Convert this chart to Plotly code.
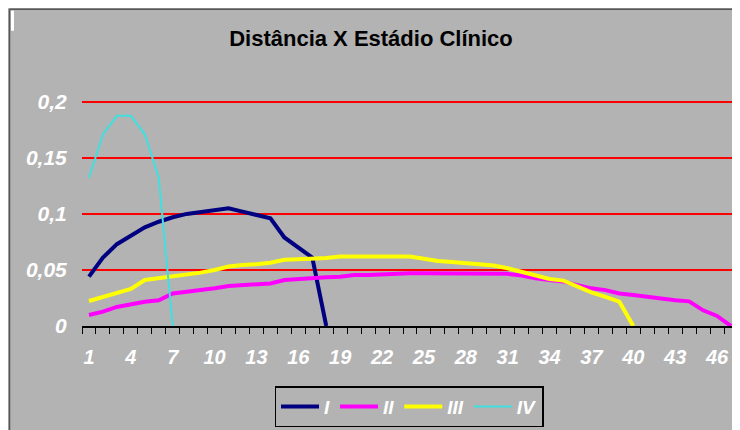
import plotly.graph_objects as go

categories = [str(c) for c in range(1, 48)]
y_tick_values = [0, 0.05, 0.1, 0.15, 0.2]
y_tick_labels = ["0", "0,05", "0,1", "0,15", "0,2"]

series_names = ["I", "II", "III", "IV"]
s_I = [0.044, 0.061, 0.073, 0.081, 0.088, 0.093, 0.097, 0.100, 0.1015, 0.1035,
       0.105, 0.102, 0.099, 0.096, 0.079, 0.070, 0.061, 0]
s_II = [0.0098, 0.0128, 0.017, 0.0194, 0.0217, 0.023, 0.029, 0.0306, 0.032, 0.0336,
        0.0357, 0.0363, 0.037, 0.038, 0.041, 0.042, 0.0425, 0.0435, 0.044, 0.0455,
        0.0455, 0.046, 0.047, 0.047, 0.047, 0.047, 0.047, 0.047, 0.047, 0.047,
        0.0465, 0.045, 0.0425, 0.041, 0.0396, 0.0365, 0.0336, 0.032, 0.029, 0.0277,
        0.026, 0.0245, 0.023, 0.022, 0.014, 0.009, 0]
s_III = [0.0223, 0.026, 0.030, 0.033, 0.041, 0.0426, 0.044, 0.046, 0.0476, 0.050,
         0.053, 0.0545, 0.055, 0.0565, 0.059, 0.0595, 0.060, 0.0607, 0.062, 0.062,
         0.062, 0.062, 0.062, 0.062, 0.060, 0.058, 0.057, 0.056, 0.055, 0.054,
         0.0515, 0.0485, 0.0455, 0.042, 0.0405, 0.035, 0.030, 0.026, 0.0217, 0]
s_IV = [0.132, 0.171, 0.1875, 0.1875, 0.171, 0.132, 0]

series = [s_I, s_II, s_III, s_IV]
colors = ["#000080", "#ff00ff", "#ffff00", "#40e0e0"]
widths = [4, 4, 4, 2]

fig = go.Figure()
for name, vals, c, w in zip(series_names, series, colors, widths):
    fig.add_trace(go.Scatter(
        x=categories[:len(vals)], y=vals, mode="lines", name=name,
        line=dict(color=c, width=w),
    ))

font_family = "Liberation Sans, Arial, sans-serif"
OFF = 8  # page body margin offset
W, H = 740, 430
Y_MAX = 0.2025
# screen coordinates: plot x 82..738, y(0.2)=102, y(0)=326
scale = (326 - 102) / 0.2
top_screen = 326 - Y_MAX * scale
L = 82 - OFF
R = W - (738 - OFF)
T = top_screen - OFF
B = H - (326 - OFF)
pw, ph = W - L - R, H - T - B


def px_x(sx):
    return (sx - OFF - L) / pw


def px_y(sy):
    return (H - B - (sy - OFF)) / ph


fig.update_layout(
    width=W, height=H,
    margin=dict(l=L, r=R, t=T, b=B, autoexpand=False),
    paper_bgcolor="#b3b3b3",
    plot_bgcolor="#b3b3b3",
    title=dict(
        text="Distância X Estádio Clínico",
        font=dict(family=font_family, size=22, color="black", weight="bold"),
        x=(371 - OFF) / W, xref="container", xanchor="center",
        y=1 - (38 - OFF) / H, yref="container", yanchor="middle",
    ),
    showlegend=True,
    legend=dict(
        orientation="h",
        x=px_x(409), xanchor="center",
        y=px_y(427), yanchor="bottom",
        bgcolor="#b3b3b3",
        bordercolor="black", borderwidth=1.5,
        font=dict(family=font_family, size=19, color="white",
                  weight="bold", style="italic"),
        itemwidth=38,
    ),
    xaxis=dict(
        type="category",
        categoryorder="array", categoryarray=categories,
        range=[-0.5, len(categories) - 0.5],
        tickmode="linear", tick0=0, dtick=1, ticklabelstep=3,
        tickson="boundaries",
        ticks="outside", ticklen=6, tickcolor="black", tickwidth=1.2,
        ticklabelstandoff=12,
        tickangle=0,
        tickfont=dict(family=font_family, size=20, color="white",
                      weight="bold", style="italic"),
        showline=True, linecolor="black", linewidth=1.5,
        showgrid=False, zeroline=False, automargin=False,
    ),
    yaxis=dict(
        range=[0, Y_MAX],
        tickmode="array", tickvals=y_tick_values, ticktext=y_tick_labels,
        ticks="outside", ticklen=10, tickcolor="rgba(0,0,0,0)",
        tickfont=dict(family=font_family, size=21, color="white",
                      weight="bold", style="italic"),
        showline=False, zeroline=False, automargin=False,
        showgrid=True, gridcolor="#ff0000", gridwidth=1.5,
    ),
    shapes=[
        dict(type="line", xref="paper", yref="paper",
             x0=px_x(9.5), x1=px_x(W + 20), y0=px_y(9.5), y1=px_y(9.5),
             line=dict(color="#555555", width=1.5)),
        dict(type="line", xref="paper", yref="paper",
             x0=px_x(9.5), x1=px_x(9.5), y0=px_y(9.5), y1=px_y(H + 20),
             line=dict(color="#555555", width=1.5)),
        dict(type="rect", xref="paper", yref="paper",
             x0=px_x(11), x1=px_x(14), y0=px_y(31), y1=px_y(11),
             fillcolor="white", line=dict(width=0)),
    ],
)

fig.write_html("out.html")
